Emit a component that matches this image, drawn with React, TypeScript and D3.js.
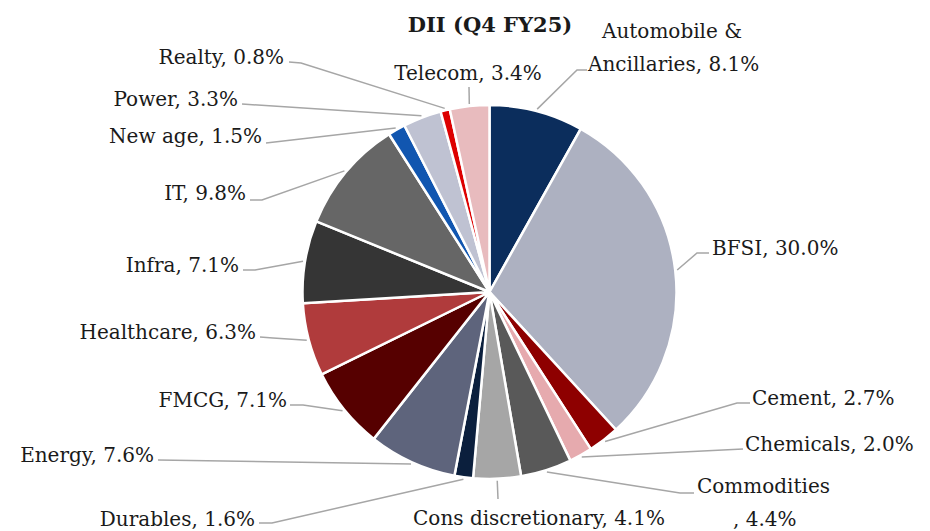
import React from "react";
import * as d3 from "d3";

const categories = [
  "Automobile & Ancillaries",
  "BFSI",
  "Cement",
  "Chemicals",
  "Commodities",
  "Cons discretionary",
  "Durables",
  "Energy",
  "FMCG",
  "Healthcare",
  "Infra",
  "IT",
  "New age",
  "Power",
  "Realty",
  "Telecom",
];
const shares = [8.1, 30.0, 2.7, 2.0, 4.4, 4.1, 1.6, 7.6, 7.1, 6.3, 7.1, 9.8, 1.5, 3.3, 0.8, 3.4];
const colors = [
  "#0B2D5C", "#ADB1C1", "#8E0000", "#E6AAAE", "#595959", "#A6A6A6", "#0B1F3D", "#5E647C",
  "#560000", "#B03B3C", "#353535", "#666666", "#1156B0", "#BFC2D2", "#DD0000", "#E8BBBE",
];
const title = "DII (Q4 FY25)";

// label layout (positions only)
type Lay = {
  anchor: "start" | "end" | "middle";
  breakAt?: number;
  lines: [number, number][];
  pts: [number, number][];
};
const layout: Lay[] = [
  { anchor: "start", breakAt: 12, lines: [[602, 38], [588, 71]], pts: [[577, 70], [587, 70]] },
  { anchor: "start", lines: [[712, 255]], pts: [[697, 253], [709, 253]] },
  { anchor: "start", lines: [[752, 405]], pts: [[737, 403], [750, 403]] },
  { anchor: "start", lines: [[745, 451]], pts: [[743, 449]] },
  { anchor: "start", breakAt: 11, lines: [[697, 493], [733, 526]], pts: [[680, 493], [694, 493]] },
  { anchor: "middle", lines: [[539, 525]], pts: [[498, 499]] },
  { anchor: "end", lines: [[255, 526]], pts: [[272, 523], [259, 523]] },
  { anchor: "end", lines: [[154, 462]], pts: [[158, 460]] },
  { anchor: "end", lines: [[287, 407]], pts: [[303, 405], [290, 405]] },
  { anchor: "end", lines: [[256, 339]], pts: [[273, 338], [260, 337]] },
  { anchor: "end", lines: [[239, 272]], pts: [[255, 270], [243, 270]] },
  { anchor: "end", lines: [[246, 200]], pts: [[262, 200], [250, 200]] },
  { anchor: "end", lines: [[262, 143]], pts: [[266, 143]] },
  { anchor: "end", lines: [[238, 106]], pts: [[242, 104]] },
  { anchor: "end", lines: [[284, 64]], pts: [[301, 63], [289, 62]] },
  { anchor: "middle", lines: [[468, 80]], pts: [[469, 87]] },
];

const W = 930;
const H = 531;
const cx = 489.5;
const cy = 292;
const R = 187;
const FONT = "'DejaVu Serif', 'Liberation Serif', serif";

export default function App() {
  const data = categories.map((c, i) => ({ name: c, value: shares[i], color: colors[i] }));
  const pie = d3
    .pie<{ name: string; value: number; color: string }>()
    .sort(null)
    .value((d) => d.value)
    .startAngle(0)
    .endAngle(2 * Math.PI);
  const arcs = pie(data);
  const arc = d3
    .arc<d3.PieArcDatum<{ name: string; value: number; color: string }>>()
    .innerRadius(0)
    .outerRadius(R);

  return (
    <svg
      width={W}
      height={H}
      viewBox={`0 0 ${W} ${H}`}
      style={{ position: "absolute", left: 0, top: 0, background: "#fff" }}
    >
      <text
        x={490}
        y={32}
        textAnchor="middle"
        fontFamily={FONT}
        fontWeight="bold"
        fontSize={21}
        fill="#1a1a1a"
      >
        {title}
      </text>
      <g transform={`translate(${cx},${cy})`}>
        {arcs.map((a, i) => (
          <path key={i} d={arc(a) || ""} fill={a.data.color} stroke="#fff" strokeWidth={2.5} strokeLinejoin="round" />
        ))}
      </g>
      {arcs.map((a, i) => {
        const lay = layout[i];
        const mid = (a.startAngle + a.endAngle) / 2;
        const sx = cx + (R + 2) * Math.sin(mid);
        const sy = cy - (R + 2) * Math.cos(mid);
        const pts: [number, number][] = [[sx, sy], ...lay.pts];
        const full = `${a.data.name}, ${a.data.value.toFixed(1)}%`;
        const lines = lay.breakAt
          ? [full.slice(0, lay.breakAt).trim(), full.slice(lay.breakAt).trim()]
          : [full];
        return (
          <g key={i}>
            <polyline
              points={pts.map((p) => p.join(",")).join(" ")}
              fill="none"
              stroke="#A6A6A6"
              strokeWidth={1.5}
            />
            {lines.map((t, j) => (
              <text
                key={j}
                x={lay.lines[j][0]}
                y={lay.lines[j][1]}
                textAnchor={lay.anchor}
                fontFamily={FONT}
                fontSize={20}
                fill="#1a1a1a"
              >
                {t}
              </text>
            ))}
          </g>
        );
      })}
    </svg>
  );
}
